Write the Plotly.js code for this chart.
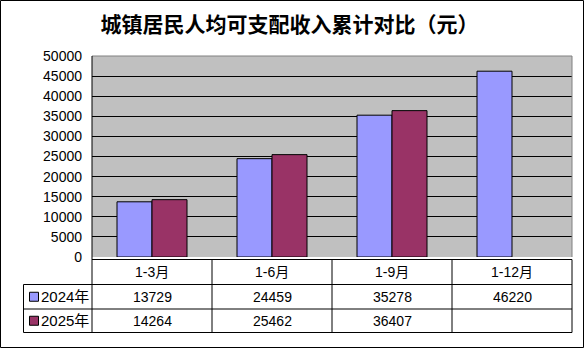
<!DOCTYPE html>
<html>
<head>
<meta charset="utf-8">
<script src="https://cdn.plot.ly/plotly-3.0.1.min.js"></script>
<style>
html,body{margin:0;padding:0;background:#fff;}
#chart{width:586px;height:349px;}
</style>
</head>
<body>
<div id="chart"></div>
<script>
// ---- data ----
const categories = ["1-3月", "1-6月", "1-9月", "1-12月"];
const seriesNames = ["2024年", "2025年"];
const values2024 = [13729, 24459, 35278, 46220];
const values2025 = [14264, 25462, 36407, null];
const yTicks = [0, 5000, 10000, 15000, 20000, 25000, 30000, 35000, 40000, 45000, 50000];

// ---- layout geometry (pixels) ----
const W = 586, H = 349;
const plotL = 92, plotR = 572, plotT = 56, plotB = 257;
const px = v => v / W;             // pixel x -> paper
const py = v => 1 - v / H;         // pixel y -> paper
const colors = ["#9999FF", "#993366"];
const numFont = "Liberation Sans, Arial, sans-serif";
const cjkFont = "Liberation Sans, 'Noto Sans CJK SC', sans-serif";

const xRange = [-0.5, categories.length - 0.5];
const xToPx = v => plotL + (v - xRange[0]) / (xRange[1] - xRange[0]) * (plotR - plotL);

const traces = [
  {type: "bar", name: seriesNames[0], x: categories, y: values2024,
   marker: {color: colors[0], line: {color: "#000", width: 1}}, hoverinfo: "x+y"},
  {type: "bar", name: seriesNames[1], x: categories, y: values2025,
   marker: {color: colors[1], line: {color: "#000", width: 1}}, hoverinfo: "x+y"}
];

// table rows (pixel y)
const tTop = 259.5, r1 = 284.5, r2 = 309, tBot = 332.5;
const labelL = 23.5;

const shapes = [];
const line = (x0, y0, x1, y1, color) => shapes.push({
  type: "line", xref: "paper", yref: "paper",
  x0: px(x0), y0: py(y0), x1: px(x1), y1: py(y1),
  line: {color: color || "#000", width: 1}
});
// outer frame
shapes.push({type: "rect", xref: "paper", yref: "paper",
  x0: px(0.5), y0: py(0.5), x1: px(583.5), y1: py(347.5),
  line: {color: "#000", width: 1}, fillcolor: "rgba(0,0,0,0)", layer: "below"});
// plot border top/right gray
line(plotL, plotT, plotR, plotT, "#808080");
line(plotR, plotT, plotR, plotB, "#808080");
// left axis line extending through table
line(plotL, plotT, plotL, tBot);
// table horizontal lines
line(plotL, tTop, plotR, tTop);
line(labelL, r1, plotR, r1);
line(labelL, r2, plotR, r2);
line(labelL, tBot, plotR, tBot);
// table vertical lines
line(labelL, r1, labelL, tBot);
for (let i = 0; i < categories.length; i++) {
  const xb = xToPx(i + 0.5);
  line(xb, tTop, xb, tBot);
}

const annotations = [];
const rowCenters = [(tTop + r1) / 2, (r1 + r2) / 2, (r2 + tBot) / 2];
categories.forEach((c, i) => {
  annotations.push({xref: "x", yref: "paper", x: c, y: py(rowCenters[0]),
    text: c, showarrow: false, xanchor: "center", yanchor: "middle",
    font: {family: cjkFont, size: 14, color: "#000"}});
  [values2024, values2025].forEach((vals, s) => {
    if (vals[i] !== null && vals[i] !== undefined) {
      annotations.push({xref: "x", yref: "paper", x: c, y: py(rowCenters[s + 1]),
        text: String(vals[i]), showarrow: false, xanchor: "center", yanchor: "middle",
        font: {family: numFont, size: 14, color: "#000"}});
    }
  });
});
// legend keys in the table
seriesNames.forEach((n, s) => {
  const cy = rowCenters[s + 1];
  shapes.push({type: "rect", xref: "paper", yref: "paper",
    x0: px(29.5), x1: px(38.5), y0: py(cy - 4.5), y1: py(cy + 4.5),
    fillcolor: colors[s], line: {color: "#000", width: 1}});
  annotations.push({xref: "paper", yref: "paper", x: px(39), y: py(cy),
    text: n, showarrow: false, xanchor: "left", yanchor: "middle",
    font: {family: cjkFont, size: 15, color: "#000"}});
});

const layout = {
  width: W, height: H,
  margin: {l: 0, r: 0, t: 0, b: 0},
  paper_bgcolor: "#fff",
  plot_bgcolor: "#C0C0C0",
  showlegend: false,
  barmode: "group",
  bargap: 0.4167,
  bargroupgap: 0,
  title: {text: "城镇居民人均可支配收入累计对比（元）",
    x: px(289.5), y: py(25), xref: "paper", yref: "paper",
    xanchor: "center", yanchor: "middle",
    font: {family: "'Noto Sans CJK SC', sans-serif", size: 21, color: "#000", weight: "bold"}},
  xaxis: {domain: [px(plotL), px(plotR)], range: xRange, type: "category",
    showticklabels: false, showgrid: false, zeroline: false, showline: false, ticks: "", fixedrange: true},
  yaxis: {domain: [py(plotB), py(plotT)], range: [0, 50000], tickvals: yTicks,
    ticktext: yTicks.map(String),
    showgrid: true, gridcolor: "#000", gridwidth: 1, zeroline: false,
    showline: false, ticks: "", ticklabelstandoff: 9,
    tickfont: {family: numFont, size: 14, color: "#000"}, fixedrange: true},
  shapes: shapes,
  annotations: annotations
};

Plotly.newPlot("chart", traces, layout, {displayModeBar: false, staticPlot: true});
</script>
</body>
</html>
